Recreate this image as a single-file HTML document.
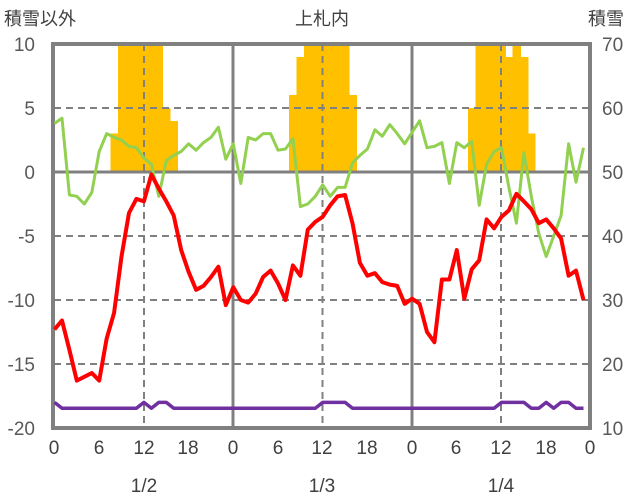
<!DOCTYPE html>
<html><head><meta charset="utf-8"><style>
body{margin:0;background:#fff;}
svg{display:block;font-family:"Liberation Sans","Noto Sans CJK JP",sans-serif;}
</style></head><body>
<svg id="s" width="636" height="501" xmlns="http://www.w3.org/2000/svg">
<g id="bars" fill="#FFC000" shape-rendering="crispEdges"></g>
<g stroke="#808080" stroke-width="2" stroke-dasharray="7,5" fill="none">
<line x1="54" y1="108" x2="590" y2="108"/>
<line x1="54" y1="236" x2="590" y2="236"/>
<line x1="54" y1="300" x2="590" y2="300"/>
<line x1="54" y1="364" x2="590" y2="364"/>
<line x1="144" y1="44" x2="144" y2="428"/>
<line x1="322.5" y1="44" x2="322.5" y2="428"/>
<line x1="501" y1="44" x2="501" y2="428"/>
</g>
<g stroke="#808080" stroke-width="3" fill="none">
<line x1="233" y1="44" x2="233" y2="428"/>
<line x1="412" y1="44" x2="412" y2="428"/>
<line x1="54" y1="172" x2="590" y2="172"/>
<rect x="53" y="44" width="537" height="384" stroke-width="4"/>
</g>
<polyline id="g" fill="none" stroke="#92D050" stroke-width="3" stroke-linejoin="round"/>
<polyline id="r" fill="none" stroke="#FF0000" stroke-width="4" stroke-linejoin="round"/>
<polyline id="p" fill="none" stroke="#7030A0" stroke-width="3.5" stroke-linejoin="round"/>
<g fill="#595959" font-size="19" text-anchor="end">
<text x="35" y="51">10</text><text x="35" y="115">5</text><text x="35" y="179">0</text>
<text x="35" y="243">-5</text><text x="35" y="307">-10</text><text x="35" y="371">-15</text><text x="35" y="435">-20</text>
</g>
<g fill="#595959" font-size="19" text-anchor="start">
<text x="602" y="51">70</text><text x="602" y="115">60</text><text x="602" y="179">50</text>
<text x="602" y="243">40</text><text x="602" y="307">30</text><text x="602" y="371">20</text><text x="602" y="435">10</text>
</g>
<g fill="#404040" font-size="19" text-anchor="middle">
<text x="54" y="454">0</text><text x="99" y="454">6</text><text x="144" y="454">12</text><text x="188" y="454">18</text>
<text x="233" y="454">0</text><text x="278" y="454">6</text><text x="322" y="454">12</text><text x="367" y="454">18</text>
<text x="412" y="454">0</text><text x="456" y="454">6</text><text x="501" y="454">12</text><text x="546" y="454">18</text>
<text x="590" y="454">0</text>
<text x="144" y="492">1/2</text><text x="322" y="492">1/3</text><text x="501" y="492">1/4</text>
</g>
<g fill="#404040" font-size="18">
<text x="4" y="25">積雪以外</text>
<text x="322" y="25" text-anchor="middle">上札内</text>
<text x="588" y="25">積雪</text>
</g>
</svg>
<script>
var X=function(h){return 54.5+7.45*h;};
var YL=function(v){return 172-12.8*v;};
var YR=function(v){return 172-6.4*(v-50);};
var green=[3.8,4.2,-1.8,-1.9,-2.5,-1.6,1.6,3.0,2.7,2.5,2.0,1.9,1.1,0.6,-1.9,0.9,1.3,1.6,2.2,1.7,2.3,2.7,3.5,1.0,
2.2,-0.9,2.7,2.5,3.0,3.0,1.7,1.8,2.6,-2.7,-2.5,-1.9,-1.0,-1.9,-1.2,-1.2,0.7,1.3,1.8,3.3,2.8,3.7,3.0,2.2,
3.1,4.0,1.9,2.0,2.3,-0.9,2.3,1.9,2.4,-2.6,0.6,1.6,1.9,-1.2,-4.0,1.5,-1.9,-4.8,-6.6,-5.0,-3.4,2.2,-0.8,1.9];
var red=[-12.3,-11.6,-13.9,-16.3,-16.0,-15.7,-16.3,-13.0,-11.0,-6.6,-3.2,-2.1,-2.3,-0.2,-1.3,-2.3,-3.4,-6.1,-7.8,-9.2,-8.9,-8.2,-7.4,-10.4,
-9.0,-10.0,-10.2,-9.5,-8.2,-7.7,-8.7,-10.0,-7.3,-8.1,-4.5,-3.9,-3.5,-2.6,-1.9,-1.8,-4.0,-7.1,-8.1,-7.9,-8.6,-8.8,-8.9,-10.3,
-9.9,-10.3,-12.5,-13.3,-8.4,-8.4,-6.1,-9.9,-7.6,-6.9,-3.7,-4.4,-3.5,-3.0,-1.7,-2.3,-2.9,-4.0,-3.7,-4.4,-5.2,-8.1,-7.7,-10.0];
var hi={0:1,12:1,14:1,15:1,36:1,37:1,38:1,39:1,60:1,61:1,62:1,63:1,66:1,68:1,69:1};
function pts(a,f){return a.map(function(v,i){return X(i).toFixed(1)+","+f(v).toFixed(1);}).join(" ");}
document.getElementById("g").setAttribute("points",pts(green,YL));
document.getElementById("r").setAttribute("points",pts(red,YL));
var pu=[];for(var i=0;i<72;i++)pu.push(hi[i]?-18.0:-18.45);
document.getElementById("p").setAttribute("points",pts(pu,YL));
var snow={8:56,9:71,10:71,11:71,12:71,13:71,14:71,15:60,16:58,
32:62,33:68,34:71,35:71,36:71,37:71,38:71,39:71,40:62,
56:60,57:71,58:71,59:71,60:71,61:68,62:71,63:68,64:56};
var g=document.getElementById("bars"),ns="http://www.w3.org/2000/svg";
for(var k in snow){var h=+k,v=snow[k];var y=Math.max(44,YR(v));
var r=document.createElementNS(ns,"rect");r.setAttribute("x",(X(h)-3.8).toFixed(1));
r.setAttribute("width","8.2");r.setAttribute("y",y);r.setAttribute("height",172-y);g.appendChild(r);}
</script>
</body></html>
